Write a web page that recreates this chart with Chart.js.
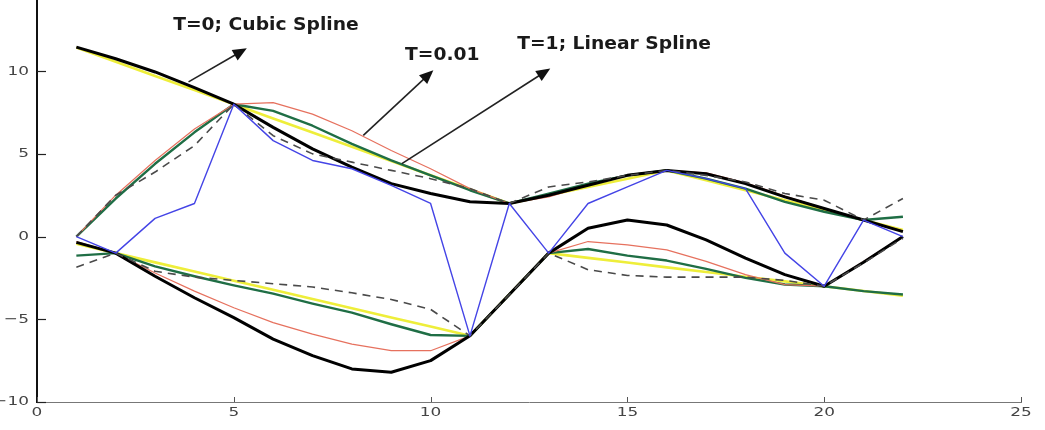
<!DOCTYPE html>
<html><head><meta charset="utf-8">
<script src="https://cdn.jsdelivr.net/npm/chart.js@4/dist/chart.umd.min.js"></script>
<style>html,body{margin:0;padding:0;background:#fff}#wrap{width:1045px;height:430px}</style>
</head><body><div id="wrap"><canvas id="c" width="1045" height="430"></canvas></div>
<script>
// ---------------- data ----------------
const xs = [1,2,3,4,5,6,7,8,9,10,11,12,13,14,15,16,17,18,19,20,21,22];

const blueSignal   = [0,-1,1.1,2,8,5.8,4.6,4.1,3.1,2,-6,2,-1,2,3,4,3.5,2.9,-1,-3,1,0];

const blackUpper   = [11.45,10.75,9.95,9.0,8.0,6.6,5.3,4.2,3.2,2.6,2.1,2.0,2.5,3.1,3.7,4.0,3.8,3.2,2.4,1.7,1.0,0.3];
const blackLower   = [-0.35,-1,-2.4,-3.7,-4.9,-6.2,-7.2,-8.0,-8.2,-7.5,-6,-3.5,-1,0.5,1.0,0.7,-0.2,-1.3,-2.3,-3,-1.55,0];

const redUpper     = [0,2.5,4.6,6.5,8,8.1,7.4,6.4,5.2,4.1,2.9,2,2.4,3.1,3.7,4.0,3.85,3.25,2.45,1.7,1.0,0.35];
const redLower     = [-0.3,-1,-2.2,-3.3,-4.3,-5.2,-5.9,-6.5,-6.9,-6.9,-6,-3.5,-1,-0.3,-0.5,-0.8,-1.5,-2.3,-2.9,-3,-1.5,0];

const greenUpper   = [0,2.3,4.4,6.3,8,7.6,6.7,5.6,4.6,3.7,2.8,2,2.6,3.2,3.7,4.0,3.5,2.9,2.1,1.5,1.0,1.2];
const greenLower   = [-1.15,-1,-1.8,-2.4,-2.95,-3.45,-4.05,-4.6,-5.3,-5.95,-6,-3.5,-1,-0.75,-1.15,-1.45,-1.95,-2.5,-2.9,-3,-3.3,-3.5];

const yellowUpper  = [11.43,10.57,9.71,8.86,8,7.14,6.29,5.43,4.57,3.71,2.86,2,2.5,3,3.5,4,3.4,2.8,2.2,1.6,1.0,0.4];
const yellowLower  = [-0.44,-1,-1.56,-2.11,-2.67,-3.22,-3.78,-4.33,-4.89,-5.44,-6,-3.5,-1,-1.29,-1.57,-1.86,-2.14,-2.43,-2.71,-3,-3.29,-3.57];

const dashedUpper  = [0,2.5,3.9,5.5,8,6.1,5.0,4.5,4.0,3.5,2.9,2,3.0,3.3,3.7,4.0,3.7,3.3,2.6,2.2,1.0,2.3];
const dashedLower  = [-1.85,-1,-2.1,-2.45,-2.65,-2.85,-3.05,-3.4,-3.8,-4.4,-6,-3.5,-1,-2.0,-2.35,-2.45,-2.45,-2.45,-2.65,-3,-1.6,-0.1];

const xTicks = [0,5,10,15,20,25];
const yTicks = [-10,-5,0,5,10];

const noteTexts = ['T=0; Cubic Spline','T=0.01','T=1; Linear Spline'];
const noteAnchors = [[3.46,12.75],[9.35,10.97],[12.2,11.58]];
const arrowTails = [[3.85,9.35],[8.29,6.12],[9.27,4.41]];
const arrowHeads = [[5.33,11.38],[10.07,10.06],[13.04,10.16]];

// ---------------- chart ----------------
function pts(ys){ return xs.map((x,i)=>({x:x, y:ys[i]})); }
function ds(ys, color, width, dash){
  return {data: pts(ys), borderColor: color, borderWidth: width, borderDash: dash||[],
          pointRadius: 0, tension: 0, fill: false, borderJoinStyle:'round', borderCapStyle:'butt'};
}
function fmt(v){ return String(v).replace('-', '\u2212'); }
function wideText(ctx, s, x, y, align, sx){
  const w = ctx.measureText(s).width * sx;
  let left = x;
  if (align === 'right') left = x - w; else if (align === 'center') left = x - w/2;
  ctx.save(); ctx.translate(left, y); ctx.scale(sx, 1); ctx.textAlign = 'left';
  ctx.fillText(s, 0, 0); ctx.restore();
}

const decor = {
  id:'decor',
  afterDatasetsDraw(chart){
    const ctx = chart.ctx, xS = chart.scales.x, yS = chart.scales.y, a = chart.chartArea;
    ctx.save();
    // inward tick marks
    ctx.strokeStyle = '#222'; ctx.lineWidth = 1.2;
    yTicks.forEach(v=>{
      const py = Math.round(yS.getPixelForValue(v))+0.5;
      ctx.beginPath(); ctx.moveTo(a.left, py); ctx.lineTo(a.left+9, py); ctx.stroke();
    });
    ctx.strokeStyle = '#555'; ctx.lineWidth = 1;
    xTicks.forEach(v=>{
      const px = Math.round(xS.getPixelForValue(v))+0.5;
      ctx.beginPath(); ctx.moveTo(px, a.bottom); ctx.lineTo(px, a.bottom-5); ctx.stroke();
    });
    // tick labels (wide, like the reference)
    ctx.fillStyle = '#444'; ctx.font = '13px "DejaVu Sans"'; ctx.textBaseline = 'middle';
    yTicks.forEach(v=>{ wideText(ctx, fmt(v), a.left-8, yS.getPixelForValue(v), 'right', 1.3); });
    xTicks.forEach(v=>{ wideText(ctx, fmt(v), xS.getPixelForValue(v), a.bottom+11, 'center', 1.3); });
    // arrows
    ctx.strokeStyle = '#222'; ctx.fillStyle = '#111'; ctx.lineWidth = 1.6;
    arrowTails.forEach((t,i)=>{
      const h = arrowHeads[i];
      const x1 = xS.getPixelForValue(t[0]), y1 = yS.getPixelForValue(t[1]);
      const x2 = xS.getPixelForValue(h[0]), y2 = yS.getPixelForValue(h[1]);
      const ang = Math.atan2(y2-y1, x2-x1), L = 14, W = 6;
      const bx = x2 - L*Math.cos(ang), by = y2 - L*Math.sin(ang);
      ctx.beginPath(); ctx.moveTo(x1,y1); ctx.lineTo(bx+2*Math.cos(ang), by+2*Math.sin(ang)); ctx.stroke();
      ctx.beginPath(); ctx.moveTo(x2,y2);
      ctx.lineTo(bx + W*Math.sin(ang), by - W*Math.cos(ang));
      ctx.lineTo(bx - W*Math.sin(ang), by + W*Math.cos(ang));
      ctx.closePath(); ctx.fill();
    });
    // notes
    ctx.fillStyle = '#1a1a1a'; ctx.font = 'bold 17px "DejaVu Sans"';
    ctx.textBaseline = 'middle';
    noteTexts.forEach((s,i)=>{
      wideText(ctx, s, xS.getPixelForValue(noteAnchors[i][0]), yS.getPixelForValue(noteAnchors[i][1]), 'left', 1.1);
    });
    ctx.restore();
  }
};

new Chart(document.getElementById('c'), {
  type: 'line',
  data: { datasets: [
    ds(blueSignal, '#4444e6', 1.4),
    ds(dashedUpper, '#4a4a4a', 1.6, [8,6]),
    ds(dashedLower, '#4a4a4a', 1.6, [8,6]),
    ds(blackUpper, '#000000', 3),
    ds(blackLower, '#000000', 3),
    ds(redUpper, '#e6715e', 1.2),
    ds(redLower, '#e6715e', 1.2),
    ds(greenUpper, '#1f6e45', 2.4),
    ds(greenLower, '#1f6e45', 2.4),
    ds(yellowUpper, '#eeee3a', 2.6),
    ds(yellowLower, '#eeee3a', 2.6)
  ]},
  options: {
    responsive: false, animation: false, events: [],
    layout: { padding: { left: 0, right: 24, top: 0, bottom: 0 } },
    plugins: { legend: { display: false }, tooltip: { enabled: false } },
    scales: {
      x: { type: 'linear', min: 0, max: 25,
           afterBuildTicks: s => { s.ticks = xTicks.map(v=>({value:v})); },
           afterFit: s => { s.height = 28; s.paddingLeft = 0; s.paddingRight = 0; },
           ticks: { display: false },
           grid: { display: false, drawTicks: false, tickLength: 0 },
           border: { display: true, color: '#777', width: 1 } },
      y: { type: 'linear', min: -10, max: 14.3,
           afterBuildTicks: s => { s.ticks = yTicks.map(v=>({value:v})); },
           afterFit: s => { s.width = 37; s.paddingTop = 0; s.paddingBottom = 0; },
           ticks: { display: false },
           grid: { display: false, drawTicks: false, tickLength: 0 },
           border: { display: true, color: '#111', width: 2 } }
    }
  },
  plugins: [decor]
});
</script></body></html>
